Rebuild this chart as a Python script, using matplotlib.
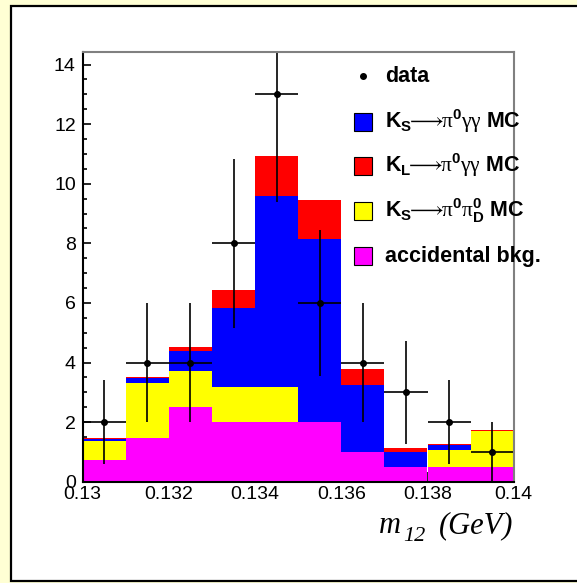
import matplotlib
matplotlib.use('Agg')
import matplotlib.pyplot as plt
from matplotlib.patches import Rectangle
from matplotlib.ticker import MultipleLocator, FuncFormatter
import numpy as np

# bin edges of m12 (GeV)
edges = [0.130, 0.131, 0.132, 0.133, 0.134, 0.135, 0.136, 0.137, 0.138, 0.139, 0.140]

# stacked MC components (events per bin), bottom to top
accidental = [0.73, 1.48, 2.50, 2.00, 2.00, 2.00, 1.00, 0.48, 0.48, 0.48]
ks_pi0pi0d = [0.62, 1.82, 1.20, 1.19, 1.19, 0.00, 0.00, 0.00, 0.60, 1.23]
ks_pi0gg   = [0.08, 0.17, 0.68, 2.64, 6.41, 6.16, 2.23, 0.52, 0.15, 0.00]
kl_pi0gg   = [0.02, 0.03, 0.15, 0.61, 1.33, 1.28, 0.55, 0.14, 0.02, 0.02]

# data counts
data = [2, 4, 4, 8, 13, 6, 4, 3, 2, 1]

plt.rcParams['font.family'] = ['Liberation Sans', 'DejaVu Sans']
plt.rcParams['mathtext.fontset'] = 'custom'
plt.rcParams['mathtext.rm'] = 'Liberation Sans:bold'
plt.rcParams['mathtext.bf'] = 'Liberation Sans:bold'
plt.rcParams['mathtext.sf'] = 'Liberation Serif'
plt.rcParams['mathtext.it'] = 'Liberation Serif:italic'
plt.rcParams['mathtext.default'] = 'rm'

W, H = 577, 583
fig = plt.figure(figsize=(W/100, H/100), dpi=100, facecolor='#ffffd4')

# white pad with black frame
fig.add_artist(Rectangle((11/W, 1-581/H), 1.0, (581-6)/H, transform=fig.transFigure,
                         facecolor='white', edgecolor='black', lw=1.6, zorder=0))

ax = fig.add_axes([82.7/W, 1-481.7/H, (513.7-82.7)/W, (481.7-52)/H])
ax.set_facecolor('white')

e = np.array(edges)
left = e[:-1]
width = np.diff(e)
centers = left + width/2

comps = [(accidental, '#ff00ff'), (ks_pi0pi0d, '#ffff00'),
         (ks_pi0gg, '#0000ff'), (kl_pi0gg, '#ff0000')]
bottom = np.zeros(len(left))
for vals, col in comps:
    v = np.array(vals)
    ax.bar(left, v, width=width, bottom=bottom, align='edge', color=col,
           edgecolor='none', linewidth=0, zorder=2)
    bottom = bottom + v

d = np.array(data, dtype=float)
ax.errorbar(centers, d, xerr=width/2, yerr=np.sqrt(d), fmt='o', color='black',
            markersize=4, elinewidth=1.2, capsize=0, zorder=5)

ax.set_xlim(0.130, 0.140)
ax.set_ylim(0, 14.42)

ax.xaxis.set_major_locator(MultipleLocator(0.002))
ax.xaxis.set_minor_locator(MultipleLocator(0.0005))
ax.yaxis.set_major_locator(MultipleLocator(2))
ax.yaxis.set_minor_locator(MultipleLocator(0.5))
ax.xaxis.set_major_formatter(FuncFormatter(lambda v, p: '%g' % round(v, 4)))
ax.yaxis.set_major_formatter(FuncFormatter(lambda v, p: '%g' % v))

ax.tick_params(which='both', direction='in', top=False, right=False, labelsize=14,
               width=1.2, zorder=6)
ax.tick_params(axis='x', which='major', length=7, pad=3)
ax.tick_params(axis='x', which='minor', length=3.5)
ax.tick_params(axis='y', which='major', length=6, pad=5)
ax.tick_params(axis='y', which='minor', length=3)

for s in ['top', 'right']:
    ax.spines[s].set_color('#808080')
    ax.spines[s].set_linewidth(1.5)
for s in ['left', 'bottom']:
    ax.spines[s].set_color('black')
    ax.spines[s].set_linewidth(1.5)
for s in ax.spines.values():
    s.set_zorder(6)

# axis title, m_12 (GeV) in Times-like italic
ital = dict(family='Liberation Serif', style='italic', va='baseline')
fig.text(379/W, 1-533/H, 'm', ha='left', fontsize=22, **ital)
fig.text(403/W, 1-541/H, '12', ha='left', fontsize=16, **ital)
fig.text(513/W, 1-533/H, '(GeV)', ha='right', fontsize=22, **ital)

# legend
labels = ['data',
          r'$K_S\!\!\longrightarrow\!\!\mathsf{\pi}^0\mathsf{\gamma\gamma}$ MC',
          r'$K_L\!\!\longrightarrow\!\!\mathsf{\pi}^0\mathsf{\gamma\gamma}$ MC',
          r'$K_S\!\!\longrightarrow\!\!\mathsf{\pi}^0\mathsf{\pi}^0_D$ MC',
          'accidental bkg.']
colors = [None, '#0000ff', '#ff0000', '#ffff00', '#ff00ff']
row_y = [76, 121.7, 165.7, 211, 256]
for lab, col, yc in zip(labels, colors, row_y):
    if col is None:
        fig.add_artist(plt.Line2D([362.7/W], [1-yc/H], marker='o', markersize=4,
                                  color='black', transform=fig.transFigure))
    else:
        fig.add_artist(Rectangle((354/W, 1-(yc+9)/H), 18/W, 18/H,
                                 transform=fig.transFigure, facecolor=col,
                                 edgecolor='black', lw=0.8, zorder=7))
    fig.text(385/W, 1-(yc+6)/H, lab, ha='left', va='baseline', fontsize=15.5,
             fontweight='bold', zorder=8)

fig.savefig('out.png', dpi=100, facecolor=fig.get_facecolor())
